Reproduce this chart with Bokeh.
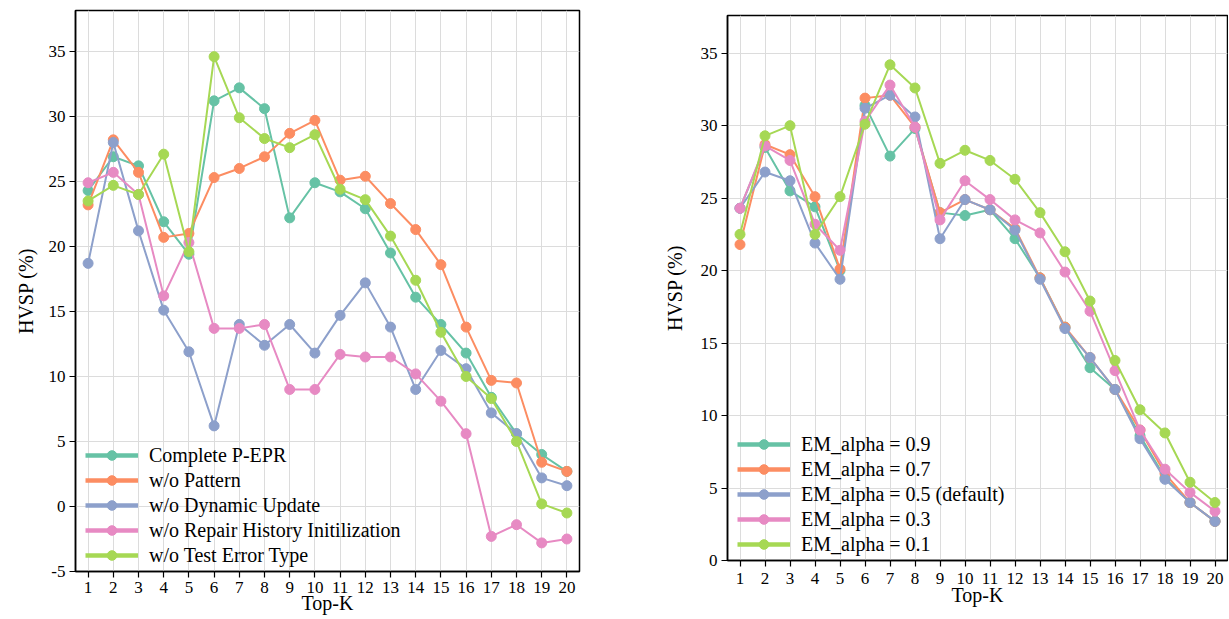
from bokeh.plotting import figure
from bokeh.models import (Range1d, FixedTicker, Legend, LegendItem,
                          PrintfTickFormatter)
from bokeh.layouts import row, column
from bokeh.embed import file_html
from bokeh.resources import INLINE

top_k = list(range(1, 21))

# Left panel: ablation
left_names = ["Complete P-EPR", "w/o Pattern", "w/o Dynamic Update",
              "w/o Repair History Initilization", "w/o Test Error Type"]
complete_pepr = [24.3, 26.9, 26.2, 21.9, 19.4, 31.2, 32.2, 30.6, 22.2, 24.9,
                 24.2, 22.9, 19.5, 16.1, 14.0, 11.8, 8.4, 5.6, 4.0, 2.7]
wo_pattern = [23.2, 28.2, 25.7, 20.7, 21.0, 25.3, 26.0, 26.9, 28.7, 29.7,
              25.1, 25.4, 23.3, 21.3, 18.6, 13.8, 9.7, 9.5, 3.4, 2.7]
wo_dynamic = [18.7, 28.0, 21.2, 15.1, 11.9, 6.2, 14.0, 12.4, 14.0, 11.8,
              14.7, 17.2, 13.8, 9.0, 12.0, 10.6, 7.2, 5.6, 2.2, 1.6]
wo_repair = [24.9, 25.7, 24.0, 16.2, 20.3, 13.7, 13.7, 14.0, 9.0, 9.0,
             11.7, 11.5, 11.5, 10.2, 8.1, 5.6, -2.3, -1.4, -2.8, -2.5]
wo_test_err = [23.5, 24.7, 24.0, 27.1, 19.6, 34.6, 29.9, 28.3, 27.6, 28.6,
               24.4, 23.6, 20.8, 17.4, 13.4, 10.0, 8.3, 5.0, 0.2, -0.5]

# Right panel: EM_alpha sensitivity
right_names = ["EM_alpha = 0.9", "EM_alpha = 0.7", "EM_alpha = 0.5 (default)",
               "EM_alpha = 0.3", "EM_alpha = 0.1"]
em_09 = [24.3, 28.5, 25.5, 24.4, 20.0, 31.4, 27.9, 29.8, 24.0, 23.8,
         24.2, 22.2, 19.5, 16.1, 13.3, 11.8, 8.6, 5.7, 4.0, 2.7]
em_07 = [21.8, 28.7, 28.0, 25.1, 20.1, 31.9, 32.1, 29.9, 24.0, 24.9,
         24.2, 22.9, 19.5, 16.1, 14.0, 11.8, 9.0, 6.0, 4.0, 2.7]
em_05 = [24.3, 26.8, 26.2, 21.9, 19.4, 31.2, 32.1, 30.6, 22.2, 24.9,
         24.2, 22.8, 19.4, 16.0, 14.0, 11.8, 8.4, 5.6, 4.0, 2.7]
em_03 = [24.3, 28.6, 27.6, 23.2, 21.4, 30.3, 32.8, 29.9, 23.5, 26.2,
         24.9, 23.5, 22.6, 19.9, 17.2, 13.1, 9.0, 6.3, 4.7, 3.4]
em_01 = [22.5, 29.3, 30.0, 22.5, 25.1, 30.1, 34.2, 32.6, 27.4, 28.3,
         27.6, 26.3, 24.0, 21.3, 17.9, 13.8, 10.4, 8.8, 5.4, 4.0]

colors = ["#66c2a5", "#fc8d62", "#8da0cb", "#e78ac3", "#a6d854"]
FONT = "Liberation Serif"
X_TITLE = "Top-K"
Y_TITLE = "HVSP (%)"


def make_fig(width, height, ymin, ymax, yticks, series, names,
             mb_left, mb_right, mb_top, mb_bottom, y_label_standoff,
             x_tick_standoff, x_label_standoff):
    p = figure(width=width, height=height, output_backend="svg",
               toolbar_location=None, x_range=Range1d(0.5, 20.5),
               y_range=Range1d(ymin, ymax),
               min_border_left=mb_left, min_border_right=mb_right,
               min_border_top=mb_top, min_border_bottom=mb_bottom)
    p.background_fill_color = "white"
    p.border_fill_color = "white"
    p.outline_line_color = "black"
    p.outline_line_width = 1.5

    p.xaxis.ticker = FixedTicker(ticks=top_k)
    p.yaxis.ticker = FixedTicker(ticks=yticks)
    p.yaxis.formatter = PrintfTickFormatter(format="%d")
    p.xaxis.axis_label = X_TITLE
    p.yaxis.axis_label = Y_TITLE
    for ax in (p.xaxis, p.yaxis):
        ax.axis_line_color = "black"
        ax.axis_line_width = 1.5
        ax.major_tick_line_color = "black"
        ax.major_tick_line_width = 1.2
        ax.major_tick_out = 6
        ax.major_tick_in = 0
        ax.minor_tick_line_color = None
        ax.major_label_text_font = FONT
        ax.major_label_text_font_size = "17px"
        ax.major_label_text_color = "black"
        ax.axis_label_text_font = FONT
        ax.axis_label_text_font_size = "20px"
        ax.axis_label_text_font_style = "normal"
        ax.axis_label_text_color = "black"
    p.xaxis.major_label_standoff = x_tick_standoff
    p.xaxis.axis_label_standoff = x_label_standoff
    p.yaxis.major_label_standoff = 4
    p.yaxis.axis_label_standoff = y_label_standoff

    p.xgrid.ticker = FixedTicker(ticks=top_k)
    p.ygrid.ticker = FixedTicker(ticks=yticks)
    for g in (p.xgrid, p.ygrid):
        g.grid_line_color = "#dcdcdc"
        g.grid_line_width = 1

    items = []
    for vals, name, c in zip(series, names, colors):
        p.line(top_k, vals, line_color=c, line_width=2)
        sc = p.scatter(top_k, vals, size=10, fill_color=c, line_color=c)
        # thicker line used only for the legend swatch
        swatch = p.line(top_k, vals, line_color=c, line_width=4.5, visible=False)
        items.append(LegendItem(label=name, renderers=[swatch, sc]))

    legend = Legend(items=items, location=(10, 4))
    legend.background_fill_alpha = 0
    legend.border_line_color = None
    legend.inactive_fill_alpha = 0
    legend.padding = 0
    legend.margin = 0
    legend.spacing = 1
    legend.glyph_width = 53
    legend.glyph_height = 24
    legend.label_height = 24
    legend.label_standoff = 11
    legend.label_text_font = FONT
    legend.label_text_font_size = "20px"
    legend.label_text_color = "black"
    p.add_layout(legend, "center")
    return p


left = make_fig(650, 619, -5, 38.15, list(range(-5, 36, 5)),
                [complete_pepr, wo_pattern, wo_dynamic, wo_repair, wo_test_err],
                left_names, 75, 71, 10, 48, 9, 4, -4)
right = make_fig(578, 619, 0, 37.6, list(range(0, 36, 5)),
                 [em_09, em_07, em_05, em_03, em_01],
                 right_names, 77, 1, 15, 59, 12, 6, -3)

layout = row(column(left), column(right))
open("out.html", "w").write(file_html(layout, INLINE))
